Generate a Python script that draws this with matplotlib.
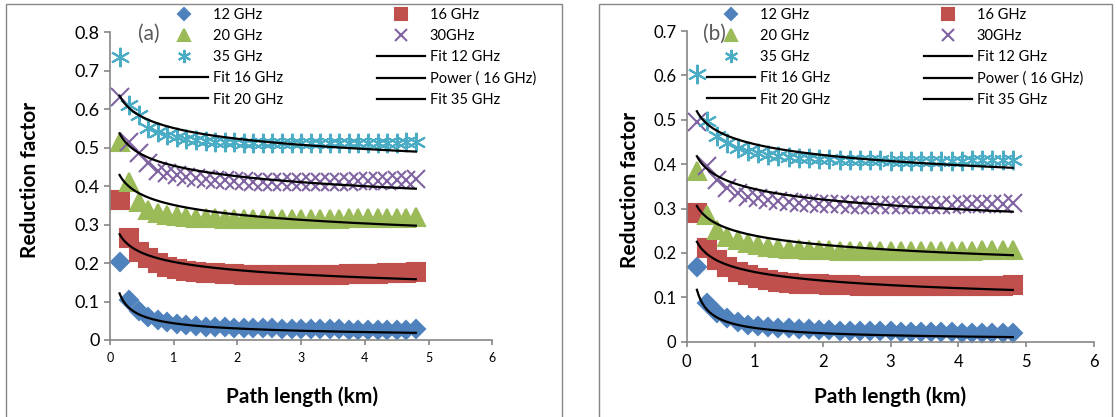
import numpy as np
import matplotlib.pyplot as plt
from matplotlib.patches import Rectangle
from matplotlib.ticker import MultipleLocator, FuncFormatter

plt.rcParams['font.family'] = ['Lato', 'DejaVu Sans']

W, H = 1117, 417

# path length (km)
dist = [0.15, 0.30, 0.45, 0.60, 0.75, 0.90, 1.05, 1.20, 1.35, 1.50, 1.65, 1.80,
        1.95, 2.10, 2.25, 2.40, 2.55, 2.70, 2.85, 3.00, 3.15, 3.30, 3.45, 3.60,
        3.75, 3.90, 4.05, 4.20, 4.35, 4.50, 4.65, 4.80]

freq_labels = ['12 GHz', '16 GHz', '20 GHz', '30GHz', '35 GHz']
fit_labels = ['Fit 12 GHz', 'Fit 16 GHz', 'Fit 20 GHz', 'Power ( 16 GHz)', 'Fit 35 GHz']

# panel (a) reduction factors
a_12 = [0.203, 0.104, 0.076, 0.061, 0.052, 0.046, 0.042, 0.039, 0.037, 0.035, 0.034, 0.033,
        0.032, 0.031, 0.031, 0.030, 0.030, 0.029, 0.029, 0.029, 0.028, 0.028, 0.028, 0.028,
        0.027, 0.027, 0.027, 0.027, 0.027, 0.027, 0.027, 0.028]
a_16 = [0.364, 0.264, 0.229, 0.212, 0.199, 0.190, 0.184, 0.180, 0.177, 0.175, 0.173, 0.172,
        0.171, 0.170, 0.170, 0.169, 0.169, 0.169, 0.169, 0.169, 0.169, 0.170, 0.170, 0.170,
        0.171, 0.171, 0.172, 0.172, 0.173, 0.174, 0.175, 0.177]
a_20 = [0.515, 0.410, 0.360, 0.338, 0.330, 0.325, 0.322, 0.320, 0.318, 0.317, 0.316, 0.315,
        0.315, 0.314, 0.314, 0.314, 0.314, 0.314, 0.314, 0.314, 0.314, 0.315, 0.315, 0.315,
        0.316, 0.316, 0.316, 0.317, 0.317, 0.318, 0.318, 0.319]
a_30 = [0.631, 0.515, 0.485, 0.460, 0.440, 0.433, 0.428, 0.424, 0.421, 0.419, 0.417, 0.415,
        0.414, 0.413, 0.412, 0.412, 0.411, 0.411, 0.411, 0.411, 0.411, 0.411, 0.412, 0.412,
        0.412, 0.413, 0.413, 0.414, 0.414, 0.415, 0.416, 0.418]
a_35 = [0.735, 0.610, 0.585, 0.552, 0.540, 0.532, 0.527, 0.523, 0.520, 0.518, 0.516, 0.515,
        0.514, 0.513, 0.512, 0.512, 0.511, 0.511, 0.511, 0.511, 0.511, 0.511, 0.511, 0.512,
        0.512, 0.512, 0.512, 0.513, 0.513, 0.513, 0.514, 0.514]

# panel (b) reduction factors
b_12 = [0.169, 0.088, 0.065, 0.053, 0.045, 0.038, 0.035, 0.033, 0.031, 0.030, 0.029, 0.028,
        0.027, 0.026, 0.025, 0.025, 0.024, 0.024, 0.023, 0.023, 0.022, 0.022, 0.022, 0.021,
        0.021, 0.021, 0.020, 0.020, 0.020, 0.020, 0.020, 0.020]
b_16 = [0.290, 0.211, 0.184, 0.169, 0.158, 0.151, 0.144, 0.139, 0.135, 0.133, 0.131, 0.130,
        0.129, 0.128, 0.127, 0.127, 0.126, 0.126, 0.126, 0.125, 0.125, 0.125, 0.125, 0.125,
        0.125, 0.125, 0.125, 0.125, 0.126, 0.126, 0.126, 0.127]
b_20 = [0.384, 0.286, 0.252, 0.237, 0.230, 0.222, 0.218, 0.214, 0.211, 0.209, 0.208, 0.207,
        0.206, 0.206, 0.205, 0.205, 0.205, 0.204, 0.204, 0.204, 0.204, 0.204, 0.204, 0.205,
        0.205, 0.205, 0.205, 0.205, 0.206, 0.206, 0.206, 0.207]
b_30 = [0.495, 0.395, 0.365, 0.346, 0.335, 0.327, 0.324, 0.320, 0.316, 0.314, 0.313, 0.312,
        0.311, 0.310, 0.310, 0.309, 0.309, 0.309, 0.309, 0.309, 0.309, 0.309, 0.309, 0.309,
        0.309, 0.309, 0.310, 0.310, 0.310, 0.310, 0.311, 0.312]
b_35 = [0.604, 0.497, 0.463, 0.448, 0.437, 0.429, 0.425, 0.421, 0.418, 0.416, 0.414, 0.413,
        0.412, 0.411, 0.410, 0.410, 0.409, 0.409, 0.409, 0.408, 0.408, 0.408, 0.408, 0.408,
        0.408, 0.408, 0.408, 0.409, 0.409, 0.409, 0.409, 0.410]

# power-law fits y = k * d**p  (12, 16, 20, 30, 35 GHz)
fit_k_a = [0.0435, 0.203, 0.351, 0.453, 0.551]
fit_p_a = [-0.54, -0.16, -0.106, -0.09, -0.075]
fit_k_b = [0.031, 0.157, 0.239, 0.344, 0.445]
fit_p_b = [-0.70, -0.19, -0.13, -0.1025, -0.0812]

colors = ['#4F81BD', '#C0504D', '#9BBB59', '#8064A2', '#4BACC6']
markers = ['D', 's', '^', 'x', (6, 2, 0)]
msizes = [9.2, 13, 13.5, 12.5, 14]
grey = '#868686'


def px_axes(fig, x0, y0, x1, y1):
    # axes placed by pixel corners (top-left origin)
    return fig.add_axes([x0 / W, 1 - y1 / H, (x1 - x0) / W, (y1 - y0) / H])


def draw_panel(ax, series, fit_k, fit_p, ymax, ytick_fs, xtick_fs):
    handles = []
    for vals, c, m, ms in zip(series, colors, markers, msizes):
        h, = ax.plot(dist, vals, linestyle='none', marker=m, ms=ms, color=c,
                     mec=c, mew=1.5, clip_on=False)
        handles.append(h)
    d = np.linspace(dist[0], dist[-1], 200)
    fit_handles = []
    for k, p in zip(fit_k, fit_p):
        h, = ax.plot(d, k * d ** p, color='black', lw=1.6)
        fit_handles.append(h)

    ax.set_xlim(0, 6)
    ax.set_ylim(0, ymax)
    ax.xaxis.set_major_locator(MultipleLocator(1))
    ax.yaxis.set_major_locator(MultipleLocator(0.1))
    ax.yaxis.set_major_formatter(FuncFormatter(lambda v, pos: f'{v:.1f}' if v else '0'))
    for s in ['top', 'right']:
        ax.spines[s].set_visible(False)
    for s in ['left', 'bottom']:
        ax.spines[s].set_color(grey)
        ax.spines[s].set_linewidth(1.2)
    ax.tick_params(axis='y', direction='out', length=4.5, width=1.2, color=grey,
                   labelsize=ytick_fs, pad=3)
    ax.tick_params(axis='x', direction='out', length=3.5, width=1.2, color=grey,
                   labelsize=xtick_fs, pad=5)
    ax.set_facecolor('none')
    return handles, fit_handles


def legend_order(handles, fit_handles):
    # two columns filled row by row
    rows = [(handles[0], freq_labels[0]), (handles[1], freq_labels[1]),
            (handles[2], freq_labels[2]), (handles[3], freq_labels[3]),
            (handles[4], freq_labels[4]), (fit_handles[0], fit_labels[0]),
            (fit_handles[1], fit_labels[1]), (fit_handles[3], fit_labels[3]),
            (fit_handles[2], fit_labels[2]), (fit_handles[4], fit_labels[4])]
    ordered = rows[0::2] + rows[1::2]
    return [h for h, _ in ordered], [l for _, l in ordered]


fig = plt.figure(figsize=(W / 100, H / 100), dpi=100)

# panel frames
fig.patches.append(Rectangle((6 / W, -0.1), 556 / W, 1.1 - 4 / H, transform=fig.transFigure,
                             fill=False, edgecolor=grey, lw=1.0))
fig.patches.append(Rectangle((599 / W, -0.1), 513 / W, 1.1 - 4 / H, transform=fig.transFigure,
                             fill=False, edgecolor=grey, lw=1.0))

ax_a = px_axes(fig, 110, 32.3, 492.3, 340)
ha, fa = draw_panel(ax_a, [a_12, a_16, a_20, a_30, a_35], fit_k_a, fit_p_a, 0.8, 13, 9)
ax_b = px_axes(fig, 686.7, 31, 1094.3, 341.7)
hb, fb = draw_panel(ax_b, [b_12, b_16, b_20, b_30, b_35], fit_k_b, fit_p_b, 0.7, 12, 12)

for xc in [302, 890]:
    fig.text(xc / W, 1 - 397 / H, 'Path length (km)', fontsize=15, fontweight='bold',
             ha='center', va='center')
fig.text(30 / W, 1 - 180 / H, 'Reduction factor', fontsize=15, fontweight='bold',
         rotation=90, ha='center', va='center')
fig.text(630 / W, 1 - 190 / H, 'Reduction factor', fontsize=15, fontweight='bold',
         rotation=90, ha='center', va='center')

fig.text(149 / W, 1 - 34 / H, '(a)', fontsize=15, color='#5a5a5a', ha='center', va='center')
fig.text(714 / W, 1 - 34 / H, '(b)', fontsize=15, color='#5a5a5a', ha='center', va='center')

leg_kw = dict(ncol=2, loc='upper left', frameon=False, borderpad=0, borderaxespad=0,
              handlelength=3.3, handletextpad=0.34, columnspacing=6.4, labelspacing=0.49,
              fontsize=10.5, markerscale=0.68)
hs, ls = legend_order(ha, fa)
fig.legend(hs, ls, bbox_to_anchor=(160 / W, 1 - 8 / H), **leg_kw)
hs, ls = legend_order(hb, fb)
fig.legend(hs, ls, bbox_to_anchor=(707 / W, 1 - 8 / H), **leg_kw)

fig.savefig('out.png', dpi=100)
